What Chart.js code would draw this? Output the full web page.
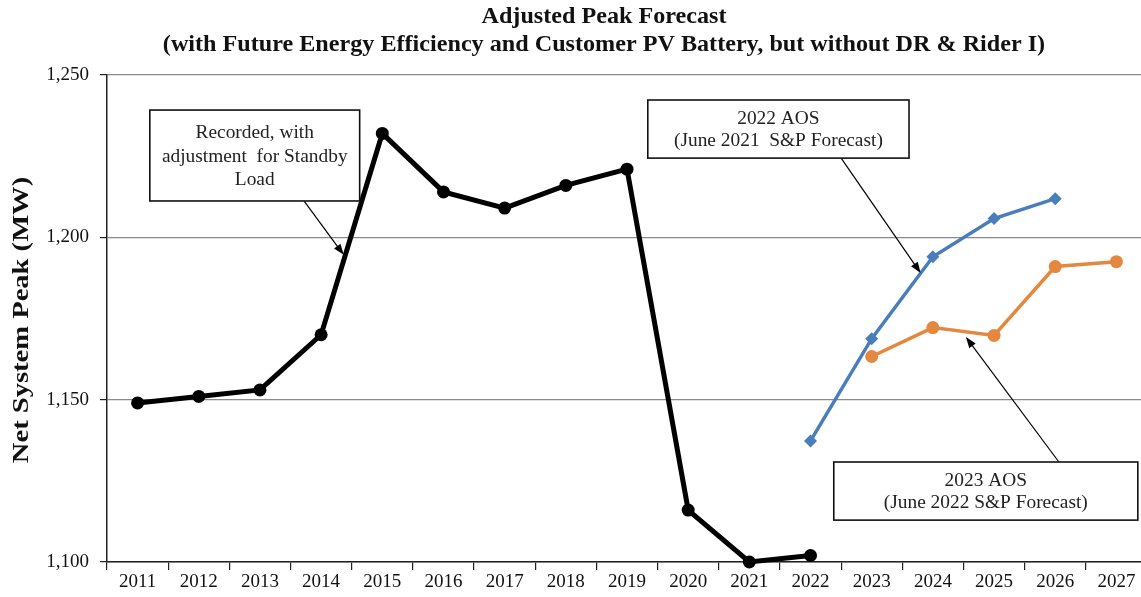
<!DOCTYPE html>
<html>
<head>
<meta charset="utf-8">
<script src="https://cdn.jsdelivr.net/npm/chart.js@4/dist/chart.umd.min.js"></script>
<style>
  html, body { margin: 0; padding: 0; overflow: hidden; background: #fff; }
  #wrap { position: relative; width: 1208px; height: 597px; }
</style>
</head>
<body>
<div id="wrap"><canvas id="c"></canvas></div>
<script>
const years = ['2011','2012','2013','2014','2015','2016','2017','2018','2019','2020','2021','2022','2023','2024','2025','2026','2027'];
const recorded = [1149, 1151, 1153, 1170, 1232, 1214, 1209, 1216, 1221, 1116, 1100, 1102, null, null, null, null, null];
const aos2022 = [null, null, null, null, null, null, null, null, null, null, null, 1137.3, 1168.8, 1194, 1205.8, 1211.9, null];
const aos2023 = [null, null, null, null, null, null, null, null, null, null, null, null, 1163.3, 1172.2, 1169.8, 1191, 1192.5];
const yTicks = [1100, 1150, 1200, 1250];
const titleLines = ['Adjusted Peak Forecast', '(with Future Energy Efficiency and Customer PV Battery, but without DR & Rider I)'];
const yTitle = 'Net System Peak (MW)';
// callouts: box corners and arrow endpoints given as [category index, value]
const callouts = [
  { lines: ['Recorded, with', 'adjustment  for Standby', 'Load'], box: [0.2, 1239.2, 3.63, 1211.2], from: [2.72, 1211.2], to: [3.37, 1194.6], lh: 23.5 },
  { lines: ['2022 AOS', '(June 2021  S&P Forecast)'], box: [8.34, 1242.3, 12.61, 1224.4], from: [11.5, 1224.4], to: [12.8, 1189.0], lh: 22 },
  { lines: ['2023 AOS', '(June 2022 S&P Forecast)'], box: [11.38, 1130.8, 16.35, 1112.9], from: [15.06, 1130.8], to: [13.54, 1169.3], lh: 21.5 }
];

const SERIF = "'Liberation Serif', 'Times New Roman', serif";

const titlePlugin = {
  id: 'customTitles',
  afterDraw(chart) {
    const ctx = chart.ctx;
    ctx.save();
    ctx.fillStyle = '#111';
    ctx.font = 'bold 23px ' + SERIF;
    ctx.textAlign = 'center';
    ctx.textBaseline = 'middle';
    const ys = [17, 45];
    titleLines.forEach((t, i) => {
      ctx.save();
      ctx.translate(604, ys[i]);
      ctx.scale(1.05, 1);
      ctx.fillText(t, 0, 0);
      ctx.restore();
    });
    // y-axis title
    ctx.save();
    ctx.font = 'bold 24px ' + SERIF;
    ctx.textBaseline = 'alphabetic';
    ctx.translate(28, 320);
    ctx.rotate(-Math.PI / 2);
    ctx.scale(1.19, 1);
    ctx.fillText(yTitle, 0, 0);
    ctx.restore();
    ctx.restore();
  }
};

const calloutPlugin = {
  id: 'callouts',
  afterDatasetsDraw(chart) {
    const ctx = chart.ctx, xs = chart.scales.x, ys = chart.scales.y;
    const px = i => xs.getPixelForValue(i);
    const py = v => ys.getPixelForValue(v);
    ctx.save();
    callouts.forEach(c => {
      const x1 = px(c.box[0]), y1 = py(c.box[1]), x2 = px(c.box[2]), y2 = py(c.box[3]);
      const ax = px(c.from[0]), ay = py(c.from[1]), bx = px(c.to[0]), by = py(c.to[1]);
      const ang = Math.atan2(by - ay, bx - ax);
      const hl = 11, hw = 4;
      ctx.strokeStyle = '#000';
      ctx.lineWidth = 1.2;
      ctx.beginPath();
      ctx.moveTo(ax, ay);
      ctx.lineTo(bx - Math.cos(ang) * hl * 0.8, by - Math.sin(ang) * hl * 0.8);
      ctx.stroke();
      ctx.fillStyle = '#000';
      ctx.beginPath();
      ctx.moveTo(bx, by);
      ctx.lineTo(bx - Math.cos(ang) * hl + Math.sin(ang) * hw, by - Math.sin(ang) * hl - Math.cos(ang) * hw);
      ctx.lineTo(bx - Math.cos(ang) * hl - Math.sin(ang) * hw, by - Math.sin(ang) * hl + Math.cos(ang) * hw);
      ctx.closePath();
      ctx.fill();
      ctx.fillStyle = '#fff';
      ctx.fillRect(x1, y1, x2 - x1, y2 - y1);
      ctx.lineWidth = 1.6;
      ctx.strokeStyle = '#111';
      ctx.strokeRect(x1, y1, x2 - x1, y2 - y1);
      ctx.fillStyle = '#222';
      ctx.font = '19px ' + SERIF;
      ctx.textAlign = 'center';
      ctx.textBaseline = 'middle';
      const cx = (x1 + x2) / 2, cy = (y1 + y2) / 2;
      const n = c.lines.length;
      c.lines.forEach((t, i) => {
        ctx.save();
        ctx.translate(cx, cy + (i - (n - 1) / 2) * c.lh + 1);
        ctx.scale(1.02, 1);
        ctx.fillText(t, 0, 0);
        ctx.restore();
      });
    });
    ctx.restore();
  }
};

new Chart(document.getElementById('c'), {
  type: 'line',
  data: {
    labels: years,
    datasets: [
      { label: 'Recorded', data: recorded, borderColor: '#000', backgroundColor: '#000', borderWidth: 5,
        pointRadius: 6.5, pointHoverRadius: 6.5, pointStyle: 'circle', pointBorderWidth: 0, tension: 0, clip: false },
      { label: '2022 AOS', data: aos2022, borderColor: '#4A7EBB', backgroundColor: '#4A7EBB', borderWidth: 3.5,
        pointRadius: 6.5, pointHoverRadius: 6.5, pointStyle: 'rectRot', pointBorderWidth: 0, tension: 0, clip: false },
      { label: '2023 AOS', data: aos2023, borderColor: '#E3883E', backgroundColor: '#E3883E', borderWidth: 3.5,
        pointRadius: 6.5, pointHoverRadius: 6.5, pointStyle: 'circle', pointBorderWidth: 0, tension: 0, clip: false }
    ]
  },
  options: {
    responsive: true,
    maintainAspectRatio: false,
    devicePixelRatio: 1,
    animation: false,
    events: [],
    layout: { padding: { left: 0, right: 61, top: 75, bottom: 0 } },
    plugins: {
      legend: { display: false },
      tooltip: { enabled: false },
      title: { display: false }
    },
    scales: {
      x: {
        type: 'category',
        offset: true,
        grid: { display: true, offset: true, drawOnChartArea: false, drawTicks: true, tickLength: 8, color: '#000', tickColor: '#222', lineWidth: 1.2 },
        border: { display: true, color: '#222', width: 1.5 },
        ticks: { color: '#111', font: { family: SERIF, size: 19 }, padding: 1, maxRotation: 0, autoSkip: false },
        afterFit: s => { s.height = 35; }
      },
      y: {
        min: 1100,
        max: 1250,
        afterBuildTicks: s => { s.ticks = yTicks.map(v => ({ value: v })); },
        grid: { color: '#8a8a8a', lineWidth: 1.2, tickColor: '#222', tickLength: 7, drawTicks: true },
        border: { display: true, color: '#222', width: 1.5 },
        ticks: { color: '#111', font: { family: SERIF, size: 19 }, padding: 11,
          callback: v => v.toLocaleString('en-US') },
        title: { display: false },
        afterFit: s => { s.width = 107; }
      }
    }
  },
  plugins: [calloutPlugin, titlePlugin]
});
</script>
</body>
</html>
